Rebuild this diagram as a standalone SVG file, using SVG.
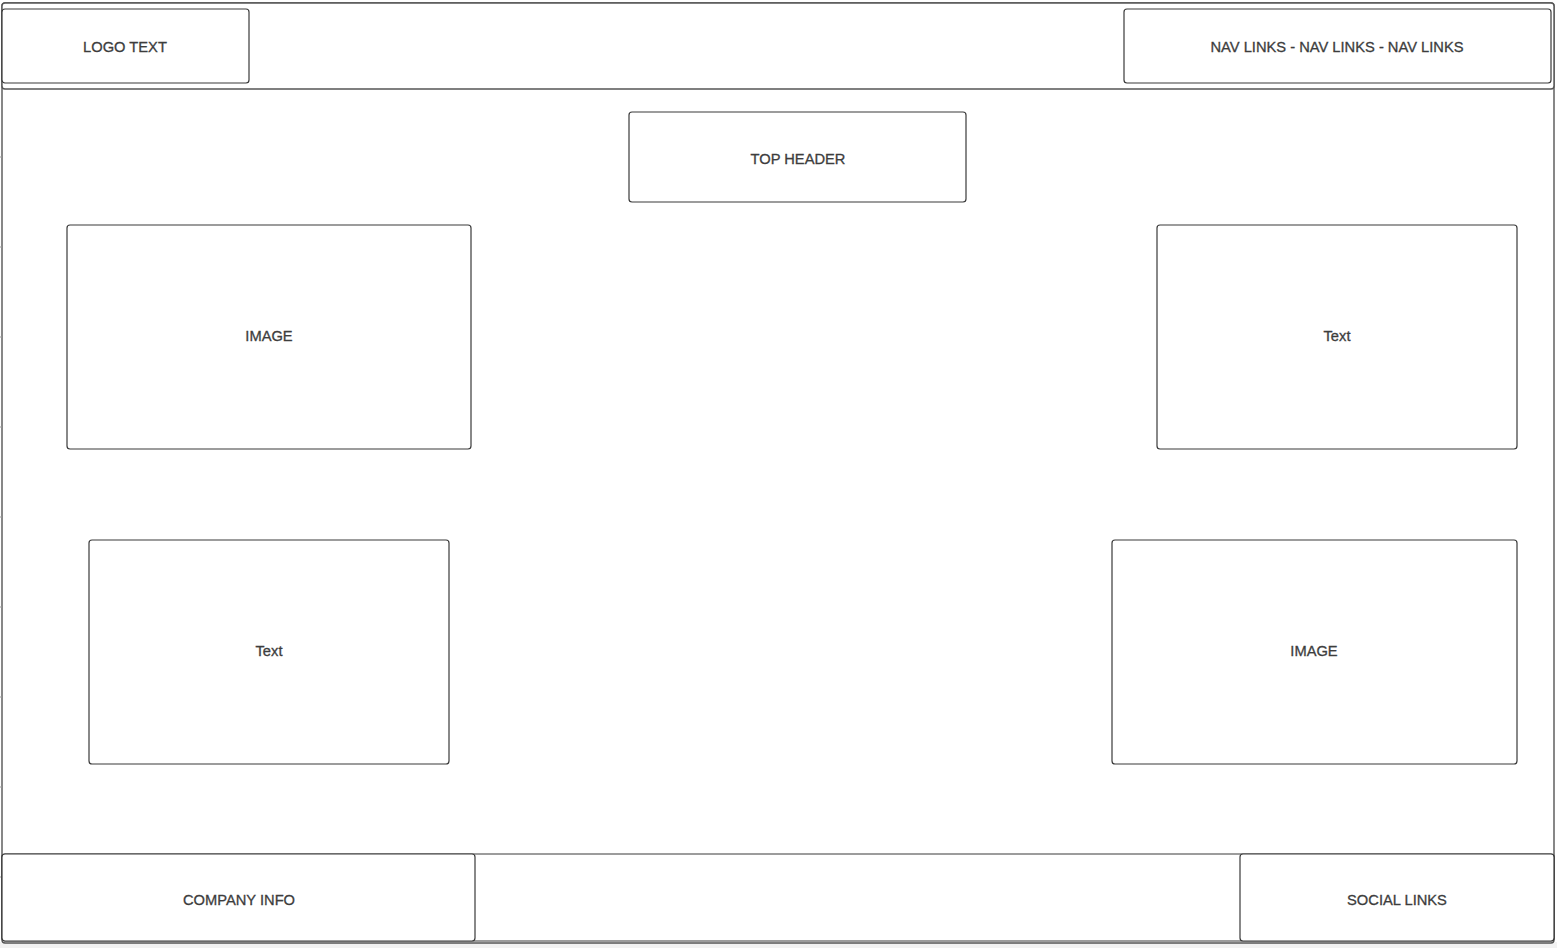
<svg xmlns="http://www.w3.org/2000/svg" width="1557" height="948" viewBox="0 0 1557 948">
  <style>
    .box { fill: #ffffff; stroke: #3a3a3a; stroke-width: 1.2; }
    .frame { fill: #ffffff; stroke: #555555; stroke-width: 1.4; }
    .lbl { font-family: "Liberation Sans", Arial, Helvetica, sans-serif; font-size: 14.7px; fill: #3d3d3d; stroke: #3d3d3d; stroke-width: 0.3; text-anchor: middle; dominant-baseline: central; }
    .tick { stroke: #9a9a9a; stroke-width: 1; }
  </style>

  <!-- page background and outer frame -->
  <rect x="0" y="0" width="1557" height="948" fill="#f2f2f2"/>
  <rect x="0" y="0" width="1557" height="942" fill="#ffffff"/>
  <rect class="frame" x="2" y="3" width="1552" height="940" rx="3"/>

  <!-- ruler ticks on the left edge -->
  <g id="ruler">
    <line class="tick" x1="0" y1="157" x2="2" y2="157"/>
    <line class="tick" x1="0" y1="247" x2="2" y2="247"/>
    <line class="tick" x1="0" y1="337" x2="2" y2="337"/>
    <line class="tick" x1="0" y1="427" x2="2" y2="427"/>
    <line class="tick" x1="0" y1="517" x2="2" y2="517"/>
    <line class="tick" x1="0" y1="607" x2="2" y2="607"/>
    <line class="tick" x1="0" y1="697" x2="2" y2="697"/>
    <line class="tick" x1="0" y1="787" x2="2" y2="787"/>
    <line class="tick" x1="0" y1="877" x2="2" y2="877"/>
  </g>

  <!-- header band -->
  <g id="header-band">
    <rect class="frame" x="2" y="3" width="1552" height="86" rx="3"/>
  </g>

  <g id="logo">
    <rect class="box" x="2" y="9" width="247" height="74" rx="3"/>
    <text class="lbl" x="125" y="47">LOGO TEXT</text>
  </g>

  <g id="nav">
    <rect class="box" x="1124" y="9" width="427" height="74" rx="3"/>
    <text class="lbl" x="1337" y="47">NAV LINKS - NAV LINKS - NAV LINKS</text>
  </g>

  <g id="top-header">
    <rect class="box" x="629" y="112" width="337" height="90" rx="3"/>
    <text class="lbl" x="798" y="159">TOP HEADER</text>
  </g>

  <g id="image-left">
    <rect class="box" x="67" y="225" width="404" height="224" rx="3"/>
    <text class="lbl" x="269" y="336">IMAGE</text>
  </g>

  <g id="text-right">
    <rect class="box" x="1157" y="225" width="360" height="224" rx="3"/>
    <text class="lbl" x="1337" y="336">Text</text>
  </g>

  <g id="text-left">
    <rect class="box" x="89" y="540" width="360" height="224" rx="3"/>
    <text class="lbl" x="269" y="651">Text</text>
  </g>

  <g id="image-right">
    <rect class="box" x="1112" y="540" width="405" height="224" rx="3"/>
    <text class="lbl" x="1314" y="651">IMAGE</text>
  </g>

  <!-- footer band -->
  <g id="footer-band">
    <rect class="box" x="2" y="854" width="1552" height="87" rx="3"/>
  </g>

  <g id="company-info">
    <rect class="box" x="2" y="854" width="473" height="87" rx="3"/>
    <text class="lbl" x="239" y="900">COMPANY INFO</text>
  </g>

  <g id="social-links">
    <rect class="box" x="1240" y="854" width="314" height="87" rx="3"/>
    <text class="lbl" x="1397" y="900">SOCIAL LINKS</text>
  </g>

  <g id="connectors"></g>
</svg>
